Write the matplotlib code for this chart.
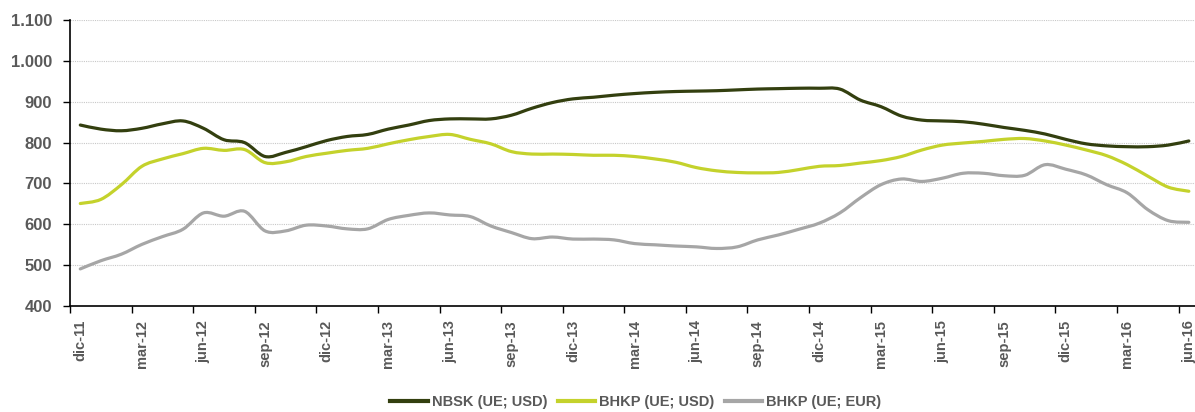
import matplotlib
matplotlib.use("Agg")
from matplotlib import pyplot as plt
from matplotlib.path import Path
from matplotlib.patches import PathPatch
from matplotlib.lines import Line2D
import numpy as np

# monthly values dic-11 .. jun-16
months = ["dic-11", "ene-12", "feb-12", "mar-12", "abr-12", "may-12", "jun-12", "jul-12", "ago-12",
          "sep-12", "oct-12", "nov-12", "dic-12", "ene-13", "feb-13", "mar-13", "abr-13", "may-13",
          "jun-13", "jul-13", "ago-13", "sep-13", "oct-13", "nov-13", "dic-13", "ene-14", "feb-14",
          "mar-14", "abr-14", "may-14", "jun-14", "jul-14", "ago-14", "sep-14", "oct-14", "nov-14",
          "dic-14", "ene-15", "feb-15", "mar-15", "abr-15", "may-15", "jun-15", "jul-15", "ago-15",
          "sep-15", "oct-15", "nov-15", "dic-15", "ene-16", "feb-16", "mar-16", "abr-16", "may-16",
          "jun-16"]

nbsk_usd = [843, 833, 829, 835, 846, 853, 835, 807, 800, 766, 776, 790, 805, 815, 820, 833, 843, 854,
            858, 858, 858, 867, 884, 898, 907, 911, 916, 920, 923, 925, 926, 927, 929, 931, 932, 933,
            933, 931, 904, 888, 865, 855, 853, 851, 845, 837, 830, 821, 808, 797, 792, 790, 790, 794,
            804]

bhkp_usd = [651, 661, 697, 742, 760, 773, 786, 781, 783, 751, 753, 766, 774, 781, 786, 797, 807, 815,
            820, 808, 797, 778, 772, 772, 771, 769, 769, 766, 760, 752, 739, 731, 727, 726, 727, 734,
            742, 744, 750, 756, 766, 782, 794, 799, 803, 808, 810, 804, 794, 782, 768, 746, 718, 691,
            681]

bhkp_eur = [491, 511, 527, 551, 570, 588, 628, 620, 632, 584, 584, 598, 596, 589, 589, 612, 622, 628,
            623, 619, 596, 580, 565, 569, 564, 564, 562, 553, 550, 547, 545, 541, 545, 562, 574, 588,
            603, 628, 665, 697, 711, 705, 713, 725, 725, 719, 720, 746, 735, 721, 697, 677, 636, 609,
            605]

series_names = ["NBSK (UE; USD)", "BHKP (UE; USD)", "BHKP (UE; EUR)"]
colors = ["#333f0f", "#c4d22c", "#a6a6a6"]


def smooth_path(xs, ys):
    # excel-like smoothed line: bezier segments through every data point
    xs = np.asarray(xs, float)
    ys = np.asarray(ys, float)
    n = len(xs)
    verts = [(xs[0], ys[0])]
    codes = [Path.MOVETO]
    for i in range(n - 1):
        p0 = i - 1 if i > 0 else i
        p3 = i + 2 if i + 2 < n else i + 1
        c1 = (xs[i] + (xs[i + 1] - xs[p0]) / 6, ys[i] + (ys[i + 1] - ys[p0]) / 6)
        c2 = (xs[i + 1] - (xs[p3] - xs[i]) / 6, ys[i + 1] - (ys[p3] - ys[i]) / 6)
        verts += [c1, c2, (xs[i + 1], ys[i + 1])]
        codes += [Path.CURVE4] * 3
    return Path(verts, codes)


plt.rcParams['font.family'] = ['Liberation Sans', 'DejaVu Sans']

fig = plt.figure(figsize=(11.95, 4.12), dpi=100)
ax = fig.add_axes([0.0586, 0.257, 0.9414, 0.6945])

x = np.arange(len(months))
handles = []
for vals, name, c in zip([nbsk_usd, bhkp_usd, bhkp_eur], series_names, colors):
    ax.add_patch(PathPatch(smooth_path(x, vals), fill=False, edgecolor=c, lw=2.3,
                           joinstyle='round', capstyle='round', zorder=3))
    handles.append(Line2D([], [], color=c, lw=3, label=name))

ax.set_ylim(400, 1100)
ax.set_xlim(-0.5, 54.3)
yt = np.arange(400, 1101, 100)
ax.set_yticks(yt)
ax.set_yticklabels([f"{v:,}".replace(",", ".") for v in yt], fontsize=12, fontweight='bold', color='#595959')
ax.yaxis.grid(True, color='#c8c8c8', linestyle=(0, (1, 1)), lw=0.8)
ax.set_axisbelow(True)

# ticks between months, labels on every third month
ax.set_xticks(np.arange(-0.5, 54, 3))
ax.set_xticklabels([])
ax.set_xticks(x[::3], minor=True)
ax.set_xticklabels(months[::3], minor=True, rotation=90, fontsize=10.5, fontweight='bold', color='#595959')
ax.tick_params(axis='x', which='minor', length=0, pad=10)
ax.tick_params(axis='x', which='major', length=5, width=1, direction='out')
ax.tick_params(axis='y', length=5, width=1, direction='out', pad=8)

for s in ['top', 'right']:
    ax.spines[s].set_visible(False)
for s in ['left', 'bottom']:
    ax.spines[s].set_linewidth(1.2)
    ax.spines[s].set_color('black')

leg = fig.legend(handles=handles, loc='center', bbox_to_anchor=(0.532, 0.024), ncol=3, frameon=False,
                 handlelength=2.6, handletextpad=0.25, columnspacing=0.7,
                 prop={'weight': 'bold', 'size': 10.5})
for t in leg.get_texts():
    t.set_color('#595959')

fig.savefig("out.png", dpi=100)
